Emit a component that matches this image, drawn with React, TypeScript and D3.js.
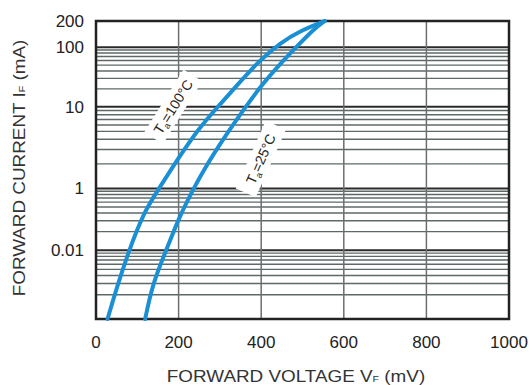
import React from "react";
import * as d3 from "d3";

// forward voltage (mV) / forward current (mA)
const vf100 = [28, 48, 80, 116, 150, 196, 249, 295, 344, 397, 446, 494, 554];
const if100 = [0.0083, 0.0232, 0.1, 0.413, 0.939, 2.22, 5.48, 10, 24.1, 61.1, 112, 154, 200];
const vf25 = [119, 137, 170, 202, 224, 260, 317, 357, 397, 448, 494, 525, 554];
const if25 = [0.0083, 0.0296, 0.1, 0.346, 0.689, 1.68, 4.72, 9.11, 21.5, 54.4, 111, 158, 200];

const xTicks = [0, 200, 400, 600, 800, 1000];
const yTicks = [200, 100, 10, 1, 0.1];
const yTickLabels = ["200", "100", "10", "1", "0.01"];
const majorLines = [100, 10, 1, 0.1];
const minorLines = [
  ...d3.range(2, 10).map(d => d * 10),
  ...d3.range(2, 10).map(d => d),
  ...d3.range(2, 10).map(d => d / 10),
  ...d3.range(2, 10).map(d => d / 100),
];

const W = 532, H = 385;
const margin = { top: 21, right: 23, bottom: 66, left: 96 };
const innerH = H - margin.top - margin.bottom;

const x = d3.scaleLinear().domain([0, 1000]).range([margin.left, W - margin.right]);
// the printed grid has uneven decades, so the log scale is piecewise
const yDomain = [0.0083, 0.1, 1, 10, 100, 200];
const yFrac = [1, 0.769, 0.562, 0.288, 0.088, 0];
const y = d3.scaleLog().domain(yDomain).range(yFrac.map(f => margin.top + f * innerH));

const line = d3.line<[number, number]>()
  .x(d => x(d[0]))
  .y(d => y(d[1]))
  .curve(d3.curveBasis);

const font = "'Liberation Sans', Arial, sans-serif";

function Label({ cx, cy, angle, temp }: { cx: number; cy: number; angle: number; temp: string }) {
  return (
    <g transform={`translate(${cx},${cy}) rotate(${angle})`}>
      <rect x={-37} y={-11} width={74} height={22} fill="white" />
      <text textAnchor="middle" dy="0.35em" fontSize={14} fontFamily={font} fill="#222">
        T<tspan fontSize={9} dy={3}>a</tspan><tspan dy={-3}>={temp}°C</tspan>
      </text>
    </g>
  );
}

export default function App() {
  const c100 = vf100.map((v, i) => [v, if100[i]] as [number, number]);
  const c25 = vf25.map((v, i) => [v, if25[i]] as [number, number]);
  const x0 = x(0), x1 = x(1000), yb = y(0.0083), yt = y(200);

  return (
    <svg width={W} height={H} style={{ position: "absolute", left: 0, top: 0, background: "white" }}>
      {/* grid */}
      {minorLines.map(d => (
        <line key={"m" + d} x1={x0} x2={x1} y1={y(d)} y2={y(d)} stroke="#5f6868" strokeWidth={1.4} />
      ))}
      {majorLines.map(d => (
        <line key={"M" + d} x1={x0} x2={x1} y1={y(d)} y2={y(d)} stroke="#2a2a2a" strokeWidth={2} />
      ))}
      {xTicks.slice(1, -1).map(d => (
        <line key={"v" + d} x1={x(d)} x2={x(d)} y1={yt} y2={yb} stroke="#6b6f6f" strokeWidth={1.5} />
      ))}
      <rect x={x0} y={yt} width={x1 - x0} height={yb - yt} fill="none" stroke="#222" strokeWidth={2.5} />

      {/* curves */}
      <path d={line(c100) || ""} fill="none" stroke="#1a8fd3" strokeWidth={4} strokeLinecap="round" />
      <path d={line(c25) || ""} fill="none" stroke="#1a8fd3" strokeWidth={4} strokeLinecap="round" />

      <Label cx={x(187)} cy={y(10)} angle={-58} temp="100" />
      <Label cx={x(399)} cy={y(2.29)} angle={-66} temp="25" />

      {/* tick labels */}
      {yTicks.map((d, i) => (
        <text key={"yt" + d} x={x0 - 12} y={y(d)} dy="0.35em" textAnchor="end" fontSize={17}
          fontFamily={font} fill="#222">{yTickLabels[i]}</text>
      ))}
      {xTicks.map(d => (
        <text key={"xt" + d} x={x(d)} y={yb + 23} dy="0.35em" textAnchor="middle" fontSize={17}
          fontFamily={font} fill="#222">{d}</text>
      ))}

      {/* axis titles */}
      <g transform={`translate(296,${H - 3}) scale(1.18,1)`}>
        <text textAnchor="middle" fontSize={16} fontFamily={font} fill="#333">
          FORWARD VOLTAGE  V<tspan fontSize={9}>F</tspan> (mV)
        </text>
      </g>
      <g transform={`translate(25,168) rotate(-90) scale(1.18,1)`}>
        <text textAnchor="middle" fontSize={16} fontFamily={font} fill="#333">
          FORWARD CURRENT  I<tspan fontSize={9}>F</tspan> (mA)
        </text>
      </g>
    </svg>
  );
}
